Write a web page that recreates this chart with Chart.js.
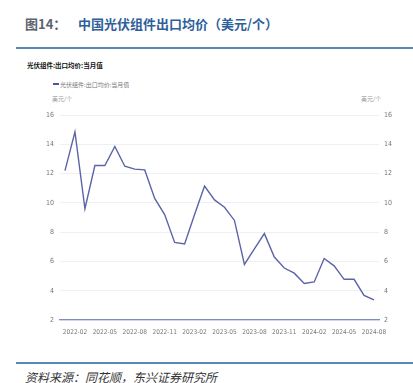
<!DOCTYPE html>
<html lang="zh">
  <head>
    <meta charset="UTF-8" />
    <title>中国光伏组件出口均价</title>
    <script src="https://cdn.jsdelivr.net/npm/chart.js@4.4.1/dist/chart.umd.min.js"></script>
    <style>
      body {
        margin: 0;
        width: 413px;
        height: 383px;
        position: relative;
        background: #fff;
        overflow: hidden;
        font-family: "Noto Sans CJK SC", sans-serif;
      }
      .abs { position: absolute; white-space: nowrap; }
      #fig { left: 25px; top: 14px; font-size: 13px; font-weight: bold; color: #5d6470; }
      #title { left: 78px; top: 14px; font-size: 13px; font-weight: bold; color: #2f5f9a; }
      .rule { left: 16px; width: 397px; height: 1.5px; background: #5b86b8; }
      #sub { left: 27px; top: 60px; font-size: 6.5px; font-weight: bold; color: #111; }
      #legLine { left: 53px; top: 83px; width: 6px; height: 2px; background: #4a55a0; }
      #legText { left: 60px; top: 80px; font-size: 6px; color: #777; }
      .unit { top: 94px; font-size: 6px; color: #999; }
      #src { left: 25px; top: 368px; font-size: 12px; font-style: italic; color: #333; }
      canvas { position: absolute; left: 0; top: 0; }
    </style>
  </head>

  <body>
    <div class="abs" id="fig">图14：</div>
    <div class="abs" id="title">中国光伏组件出口均价（美元/个）</div>
    <div class="abs rule" style="top: 47px"></div>
    <div class="abs" id="sub">光伏组件:出口均价:当月值</div>
    <div class="abs" id="legLine"></div>
    <div class="abs" id="legText">光伏组件:出口均价:当月值</div>
    <div class="abs unit" style="left: 52px">美元/个</div>
    <div class="abs unit" style="left: 361px">美元/个</div>
    <div class="abs rule" style="top: 362px"></div>
    <div class="abs" id="src">资料来源：同花顺，东兴证券研究所</div>

    <canvas id="priceChart" width="413" height="383"></canvas>

    <script>
      // ---- data ----
      const months = [
        "2022-01", "2022-02", "2022-03", "2022-04", "2022-05", "2022-06",
        "2022-07", "2022-08", "2022-09", "2022-10", "2022-11", "2022-12",
        "2023-01", "2023-02", "2023-03", "2023-04", "2023-05", "2023-06",
        "2023-07", "2023-08", "2023-09", "2023-10", "2023-11", "2023-12",
        "2024-01", "2024-02", "2024-03", "2024-04", "2024-05", "2024-06",
        "2024-07", "2024-08",
      ];
      const avgPrice = [
        12.2, 14.85, 9.6, 12.55, 12.55, 13.85,
        12.5, 12.3, 12.25, 10.3, 9.2, 7.3,
        7.2, 9.2, 11.15, 10.2, 9.7, 8.8,
        5.8, 6.85, 7.9, 6.3, 5.55, 5.2,
        4.5, 4.6, 6.2, 5.7, 4.78, 4.78,
        3.68, 3.38,
      ];
      const yTicks = { min: 2, max: 16, step: 2 };

      const tickFont = { family: "'Liberation Sans Narrow', 'DejaVu Sans Condensed', sans-serif", size: 7 };

      new Chart(document.getElementById("priceChart"), {
        type: "line",
        data: {
          labels: months,
          datasets: [
            {
              label: "光伏组件:出口均价:当月值",
              data: avgPrice,
              borderColor: "#5c64a8",
              borderWidth: 1.4,
              pointRadius: 0,
              tension: 0,
              yAxisID: "y",
            },
          ],
        },
        options: {
          responsive: false,
          animation: false,
          layout: { padding: { top: 115, left: 0, right: 0, bottom: 0 } },
          plugins: { legend: { display: false }, tooltip: { enabled: false } },
          scales: {
            x: {
              offset: true,
              grid: { display: false },
              border: { display: true, color: "#7d8dc0", width: 1.2 },
              ticks: {
                autoSkip: false,
                maxRotation: 0,
                padding: 0,
                color: "#777",
                font: { ...tickFont, size: 6.5 },
                callback: (v, i) => (i % 3 === 1 ? months[i] : ""),
              },
              afterFit: (s) => { s.height = 63; },
            },
            y: {
              position: "left",
              min: yTicks.min,
              max: yTicks.max,
              grid: { color: "#eef0f6", drawTicks: false },
              border: { display: false },
              ticks: { stepSize: yTicks.step, padding: 6, color: "#777", font: tickFont },
              afterFit: (s) => { s.width = 60; },
            },
            y1: {
              position: "right",
              min: yTicks.min,
              max: yTicks.max,
              grid: { display: false, drawTicks: false },
              border: { display: false },
              ticks: { stepSize: yTicks.step, padding: 5, color: "#777", font: tickFont },
              afterFit: (s) => { s.width = 34; },
            },
          },
        },
      });
    </script>
  </body>
</html>
